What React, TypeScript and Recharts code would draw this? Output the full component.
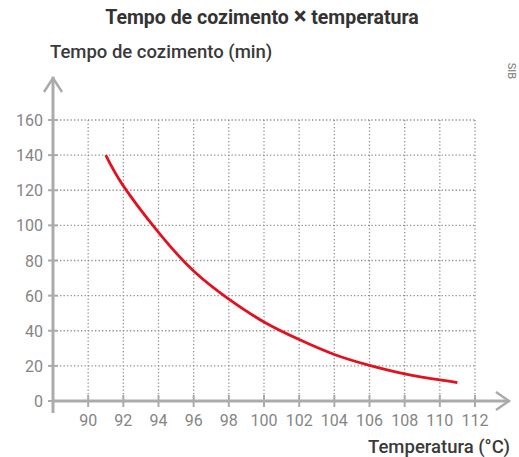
import React from 'react';
import { LineChart, Line, XAxis, YAxis, CartesianGrid, Customized } from 'recharts';

// Valores
const temperatures = [91, 92, 94, 96, 98, 100, 102, 104, 106, 108, 110, 111];
const cookingTimes = [140, 122.5, 96, 74, 58, 45, 35, 26.5, 20.3, 15.5, 12, 10.5];
const xTicks = [90, 92, 94, 96, 98, 100, 102, 104, 106, 108, 110, 112];
const yTicks = [0, 20, 40, 60, 80, 100, 120, 140, 160];

const data = temperatures.map((t, i) => ({ temp: t, time: cookingTimes[i] }));

const W = 519;
const H = 457;
const MARGIN = { top: 120, right: 44, left: 13, bottom: 26 };
const Y_AXIS_W = 40;
const X_AXIS_H = 30;

const AXIS = '#ababab';
const TICK_TEXT = '#858585';
const FONT = 'Roboto, "Noto Sans", sans-serif';

const plotLeft = MARGIN.left + Y_AXIS_W;
const plotBottom = H - MARGIN.bottom - X_AXIS_H;

const XTick = (props: any) => {
  const { x, y, payload } = props;
  return (
    <g>
      <line x1={x} x2={x} y1={y - 6} y2={y + 6} stroke={AXIS} strokeWidth={2} />
      <text x={x} y={y + 25} textAnchor="middle" fontSize={16} fill={TICK_TEXT} fontFamily={FONT}>
        {payload.value}
      </text>
    </g>
  );
};

const YTick = (props: any) => {
  const { x, y, payload } = props;
  return (
    <g>
      <line x1={x - 5} x2={x + 5} y1={y} y2={y} stroke={AXIS} strokeWidth={2} />
      <text x={x - 10} y={y + 6} textAnchor="end" fontSize={16} fill={TICK_TEXT} fontFamily={FONT}>
        {payload.value}
      </text>
    </g>
  );
};

// eixos com setas, que passam além da área do gráfico
const Arrows = () => (
  <g>
    <line x1={plotLeft} x2={plotLeft} y1={plotBottom + 12} y2={77} stroke={AXIS} strokeWidth={3} />
    <polyline
      points={`${plotLeft - 9},${92} ${plotLeft},${78} ${plotLeft + 9},${92}`}
      fill="none"
      stroke={AXIS}
      strokeWidth={2.5}
    />
    <line x1={plotLeft - 1} x2={509} y1={plotBottom} y2={plotBottom} stroke={AXIS} strokeWidth={3} />
    <polyline
      points={`${496},${plotBottom - 9} ${509},${plotBottom} ${496},${plotBottom + 9}`}
      fill="none"
      stroke={AXIS}
      strokeWidth={2.5}
    />
  </g>
);

export default function App() {
  return (
    <div style={{ position: 'absolute', left: 0, top: 0, width: W, height: H, background: '#fff' }}>
      <LineChart width={W} height={H} data={data} margin={MARGIN}>
        <CartesianGrid stroke="#8f8f8f" strokeWidth={1.3} strokeDasharray="1.3 2.2" />
        <XAxis
          dataKey="temp"
          type="number"
          domain={[88, 112]}
          ticks={xTicks}
          interval={0}
          height={X_AXIS_H}
          axisLine={false}
          tickLine={false}
          tickSize={0}
          tickMargin={0}
          tick={<XTick />}
        />
        <YAxis
          type="number"
          domain={[0, 160]}
          ticks={yTicks}
          interval={0}
          width={Y_AXIS_W}
          axisLine={false}
          tickLine={false}
          tickSize={0}
          tickMargin={0}
          tick={<YTick />}
        />
        <Customized component={<Arrows />} />
        <Line
          type="natural"
          dataKey="time"
          stroke="#e3111f"
          strokeWidth={2.8}
          dot={false}
          isAnimationActive={false}
        />
        <text x={262} y={24} textAnchor="middle" fontSize={19.5} fontWeight={700} fill="#333" fontFamily={FONT}>
          Tempo de cozimento <tspan fontSize={24}>×</tspan> temperatura
        </text>
        <text x={50} y={58} fontSize={18.5} fontWeight={500} fill="#3a3a3a" fontFamily={FONT}>
          Tempo de cozimento (min)
        </text>
        <text x={510} y={453} textAnchor="end" fontSize={18.5} fontWeight={500} fill="#3a3a3a" fontFamily={FONT}>
          Temperatura (°C)
        </text>
        <text
          x={511}
          y={71}
          textAnchor="middle"
          dominantBaseline="central"
          fontSize={11}
          fill="#777"
          fontFamily={FONT}
          transform="rotate(90 511 71)"
        >
          SIB
        </text>
      </LineChart>
    </div>
  );
}
